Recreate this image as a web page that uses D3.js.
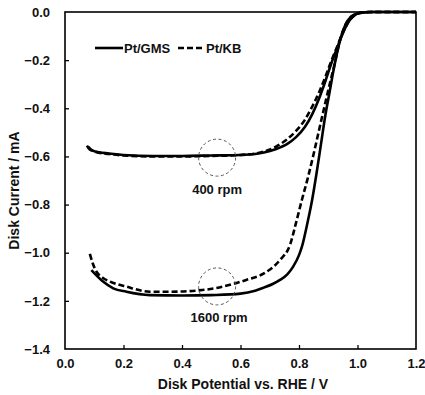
<!DOCTYPE html>
<html><head><meta charset="utf-8">
<script src="https://cdn.jsdelivr.net/npm/d3@7/dist/d3.min.js"></script>
<style>body{margin:0;background:#fff}svg{display:block;font-family:"Liberation Sans",Arial,sans-serif;font-weight:bold}</style>
</head><body><svg id="c" width="425" height="395"></svg>
<script>
const xTicks = [0.0,0.2,0.4,0.6,0.8,1.0,1.2];
const yTicks = [0.0,-0.2,-0.4,-0.6,-0.8,-1.0,-1.2,-1.4];

const gms400X = [0.075,0.085,0.10,0.15,0.20,0.30,0.40,0.50,0.60,0.65,0.68,0.72,0.76,0.79,0.82,0.845,0.87,0.89,0.91,0.93,0.95,0.97,0.99,1.01,1.04,1.10,1.20];
const gms400Y = [-0.555,-0.572,-0.578,-0.588,-0.594,-0.598,-0.598,-0.596,-0.594,-0.590,-0.584,-0.570,-0.548,-0.520,-0.478,-0.425,-0.355,-0.288,-0.215,-0.150,-0.088,-0.040,-0.013,-0.003,0,0,0];
const kb400X = [0.08,0.09,0.10,0.15,0.20,0.30,0.40,0.50,0.60,0.65,0.68,0.72,0.76,0.79,0.82,0.84,0.87,0.89,0.91,0.93,0.95,0.97,0.99,1.01,1.04,1.10,1.20];
const kb400Y = [-0.56,-0.572,-0.58,-0.59,-0.596,-0.600,-0.600,-0.598,-0.594,-0.588,-0.580,-0.560,-0.528,-0.494,-0.448,-0.405,-0.33,-0.27,-0.205,-0.145,-0.086,-0.04,-0.013,-0.003,0,0,0];
const gms1600X = [0.09,0.10,0.13,0.165,0.21,0.29,0.40,0.50,0.60,0.65,0.68,0.71,0.735,0.76,0.78,0.80,0.81,0.83,0.845,0.86,0.875,0.89,0.905,0.92,0.94,0.96,0.98,1.00,1.02,1.05,1.10,1.20];
const gms1600Y = [-1.072,-1.085,-1.12,-1.148,-1.162,-1.176,-1.178,-1.176,-1.17,-1.158,-1.145,-1.13,-1.113,-1.09,-1.058,-1.01,-0.975,-0.87,-0.78,-0.67,-0.55,-0.43,-0.33,-0.23,-0.12,-0.05,-0.018,-0.006,-0.002,0,0,0];
const kb1600X = [0.085,0.095,0.108,0.13,0.154,0.21,0.29,0.36,0.47,0.575,0.62,0.68,0.735,0.77,0.79,0.81,0.83,0.85,0.865,0.88,0.90,0.92,0.94,0.96,0.98,1.00,1.02,1.05,1.10,1.20];
const kb1600Y = [-1.005,-1.045,-1.079,-1.105,-1.12,-1.141,-1.162,-1.162,-1.155,-1.13,-1.113,-1.086,-1.03,-0.965,-0.875,-0.78,-0.69,-0.59,-0.51,-0.43,-0.325,-0.225,-0.118,-0.05,-0.018,-0.006,-0.002,0,0,0];

const seriesNames = ["Pt/GMS","Pt/KB"];
const annotLabels = ["400 rpm","1600 rpm"];
const annotX = [0.52,0.52];
const annotY = [-0.605,-1.14];

const L=65,R=416,T=12,B=349;
const FS="13px", TFS="14px";
const svg=d3.select("#c");
const x=d3.scaleLinear().domain([0,1.2]).range([L,R]);
const y=d3.scaleLinear().domain([-1.4,0]).range([B,T]);

// frame
svg.append("rect").attr("x",L).attr("y",T).attr("width",R-L).attr("height",B-T)
  .attr("fill","none").attr("stroke","#000").attr("stroke-width",1.6);

const gx=svg.append("g").attr("transform",`translate(0,${B})`)
  .call(d3.axisBottom(x).tickValues(xTicks).tickFormat(d3.format(".1f")).tickSizeInner(-4).tickSizeOuter(0).tickPadding(10));
const gy=svg.append("g").attr("transform",`translate(${L},0)`)
  .call(d3.axisLeft(y).tickValues(yTicks).tickFormat(d3.format(".1f")).tickSizeInner(-4).tickSizeOuter(0).tickPadding(15));
[gx,gy].forEach(g=>{g.select(".domain").remove();
  g.selectAll("line").attr("stroke","#000").attr("stroke-width",1.3);
  g.selectAll("text").attr("fill","#111").style("font-size",FS).style("font-weight","bold").style("font-family","'Liberation Sans',Arial,sans-serif");});
gx.selectAll(".tick").filter(d=>d===0||d===1.2).select("line").remove();
gy.selectAll(".tick").filter(d=>d===0||d===-1.4).select("line").remove();
gy.selectAll("text").text(d=>d===0?"0.0":d3.format(".1f")(d));

const line=d3.line().x(d=>x(d[0])).y(d=>y(d[1])).curve(d3.curveMonotoneX);
const series=[[gms400X,gms400Y,false],[kb400X,kb400Y,true],[gms1600X,gms1600Y,false],[kb1600X,kb1600Y,true]];
series.forEach(([xs,ys,dash])=>{
  svg.append("path").datum(xs.map((v,i)=>[v,ys[i]])).attr("d",line)
    .attr("fill","none").attr("stroke","#000").attr("stroke-width",2.6)
    .attr("stroke-dasharray",dash?"6,3":null);
});

// annotation circles
annotX.forEach((v,i)=>{
  svg.append("circle").attr("cx",x(v)).attr("cy",y(annotY[i])).attr("r",18.5)
    .attr("fill","none").attr("stroke","#555").attr("stroke-width",1).attr("stroke-dasharray","3,2.5");
  svg.append("text").attr("x",x(v)+(i?2:0)).attr("y",y(annotY[i])+36).attr("text-anchor","middle")
    .style("font-size",FS).attr("fill","#111").text(annotLabels[i]);
});

// legend
const lg=svg.append("g");
lg.append("line").attr("x1",95).attr("x2",123).attr("y1",48).attr("y2",48).attr("stroke","#000").attr("stroke-width",2.6);
lg.append("text").attr("x",124).attr("y",52.5).style("font-size",FS).attr("fill","#111").text(seriesNames[0]);
lg.append("line").attr("x1",178).attr("x2",205).attr("y1",48).attr("y2",48).attr("stroke","#000").attr("stroke-width",2.6).attr("stroke-dasharray","6,3");
lg.append("text").attr("x",206).attr("y",52.5).style("font-size",FS).attr("fill","#111").text(seriesNames[1]);

// axis titles
svg.append("text").attr("x",243).attr("y",389).attr("text-anchor","middle").style("font-size",TFS).attr("fill","#111").text("Disk Potential vs. RHE / V");
svg.append("text").attr("transform",`translate(19,${(T+B)/2+10}) rotate(-90)`).attr("text-anchor","middle").style("font-size",TFS).attr("fill","#111").text("Disk Current / mA");
</script></body></html>
